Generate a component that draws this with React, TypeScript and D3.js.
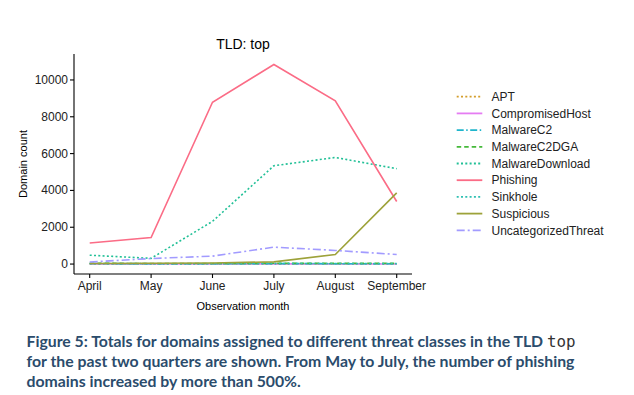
import React from 'react';
import * as d3 from 'd3';

const months = ['April', 'May', 'June', 'July', 'August', 'September'];
const classes = [
  'APT',
  'CompromisedHost',
  'MalwareC2',
  'MalwareC2DGA',
  'MalwareDownload',
  'Phishing',
  'Sinkhole',
  'Suspicious',
  'UncategorizedThreat',
];

const apt = [5, 5, 5, 5, 5, 5];
const compromisedHost = [10, 5, 5, 10, 10, 5];
const malwareC2 = [30, 20, 20, 25, 20, 20];
const malwareC2DGA = [40, 30, 30, 40, 35, 35];
const malwareDownload = [480, 310, 2320, 5340, 5790, 5180];
const phishing = [1140, 1440, 8790, 10840, 8870, 3400];
const sinkhole = [20, 15, 20, 30, 25, 25];
const suspicious = [30, 40, 60, 120, 520, 3870];
const uncategorized = [110, 300, 430, 920, 740, 520];

const seriesValues = [
  apt,
  compromisedHost,
  malwareC2,
  malwareC2DGA,
  malwareDownload,
  phishing,
  sinkhole,
  suspicious,
  uncategorized,
];

const colors = [
  '#D49E2C',
  '#E57CF2',
  '#1FB5CC',
  '#45B93A',
  '#22C097',
  '#FB6C86',
  '#2FC0B2',
  '#9DA23A',
  '#A29BFF',
];
const dashes = ['2,2.3', null, '7,2.5,1.5,2.5', '4.5,3', '2,2.3', null, '2,2.3', null, '8,3,2,3'];

const yTicks = [0, 2000, 4000, 6000, 8000, 10000];

export default function App() {
  const width = 634;
  const height = 395;
  const left = 74;
  const right = 412;
  const top = 54;
  const bottom = 274;

  const x = d3
    .scalePoint<string>()
    .domain(months)
    .range([89.7, 396.7]);
  const y = d3.scaleLinear().domain([-540, 11410]).range([bottom, top]);

  const line = d3
    .line<number>()
    .x((d, i) => x(months[i]) as number)
    .y((d) => y(d));

  const axisFont = '"Liberation Sans", Arial, sans-serif';

  return (
    <svg
      width={width}
      height={height}
      style={{ position: 'absolute', left: 0, top: 0, background: '#fff' }}
    >
      <text x={243} y={49} textAnchor="middle" fontFamily={axisFont} fontSize={14} fill="#000">
        TLD: top
      </text>

      {seriesValues.map((vals, i) => (
        <path
          key={classes[i]}
          d={line(vals) || ''}
          fill="none"
          stroke={colors[i]}
          strokeWidth={1.6}
          strokeDasharray={dashes[i] || undefined}
        />
      ))}

      {/* axes */}
      <line x1={left} x2={left} y1={top} y2={bottom} stroke="#000" strokeWidth={1.1} />
      <line x1={left} x2={right} y1={bottom} y2={bottom} stroke="#000" strokeWidth={1.1} />
      {yTicks.map((t) => (
        <g key={t}>
          <line x1={left - 4} x2={left} y1={y(t)} y2={y(t)} stroke="#000" strokeWidth={1.1} />
          <text
            x={left - 6}
            y={y(t) + 4}
            textAnchor="end"
            fontFamily={axisFont}
            fontSize={12}
            fill="#222"
          >
            {t}
          </text>
        </g>
      ))}
      {months.map((m) => (
        <g key={m}>
          <line
            x1={x(m)}
            x2={x(m)}
            y1={bottom}
            y2={bottom + 4}
            stroke="#000"
            strokeWidth={1.1}
          />
          <text
            x={x(m)}
            y={bottom + 16}
            textAnchor="middle"
            fontFamily={axisFont}
            fontSize={12}
            fill="#222"
          >
            {m}
          </text>
        </g>
      ))}
      <text
        x={243}
        y={310}
        textAnchor="middle"
        fontFamily={axisFont}
        fontSize={11}
        fill="#000"
      >
        Observation month
      </text>
      <text
        transform={`translate(27,${(top + bottom) / 2}) rotate(-90)`}
        textAnchor="middle"
        fontFamily={axisFont}
        fontSize={11}
        fill="#000"
      >
        Domain count
      </text>

      {/* legend */}
      {classes.map((c, i) => {
        const ly = 96.7 + i * 16.7;
        return (
          <g key={c}>
            <line
              x1={456.7}
              x2={482.3}
              y1={ly}
              y2={ly}
              stroke={colors[i]}
              strokeWidth={1.8}
              strokeDasharray={dashes[i] || undefined}
            />
            <text
              x={491.5}
              y={ly + 4.2}
              fontFamily={axisFont}
              fontSize={12}
              fill="#222"
            >
              {c}
            </text>
          </g>
        );
      })}

      {/* caption */}
      <text fontFamily="Lato, sans-serif" fontWeight={700} fontSize={15.8} fill="#2B4C6C">
        <tspan x={26.5} y={347}>
          Figure 5: Totals for domains assigned to different threat classes in the TLD{' '}
          <tspan fontFamily='"DejaVu Sans Mono", "Liberation Mono", monospace' fontWeight={400} fill="#333">
            top
          </tspan>
        </tspan>
        <tspan x={26.5} y={367}>
          for the past two quarters are shown. From May to July, the number of phishing
        </tspan>
        <tspan x={26.5} y={387}>
          domains increased by more than 500%.
        </tspan>
      </text>
    </svg>
  );
}
